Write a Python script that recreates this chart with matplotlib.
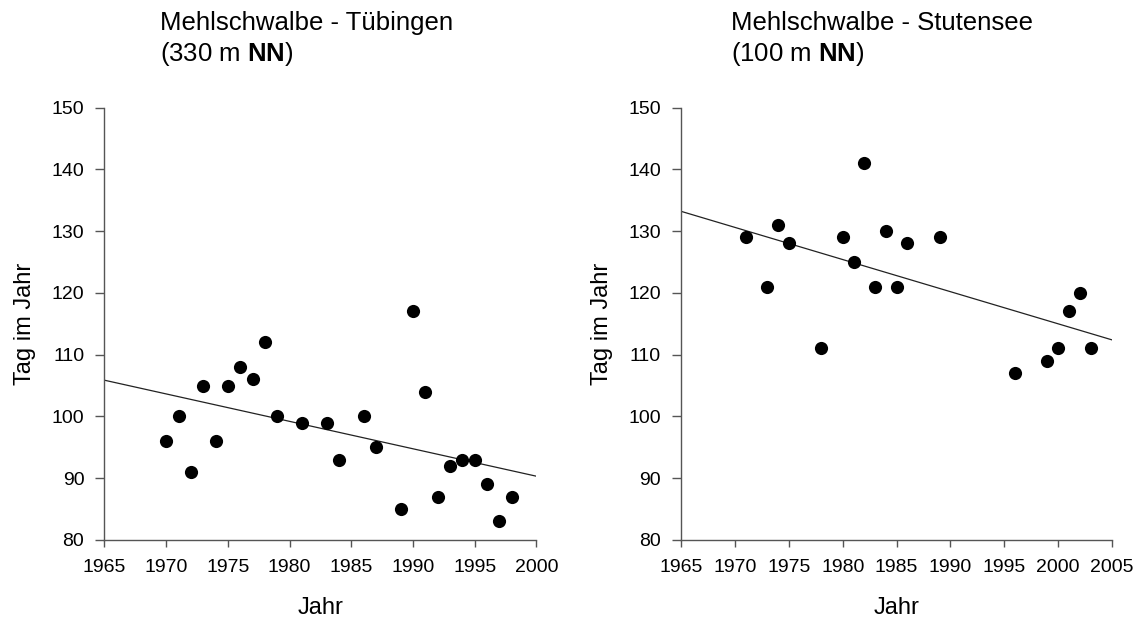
import numpy as np
import matplotlib
matplotlib.use("Agg")
import matplotlib.pyplot as plt

plt.rcParams['font.family'] = ['Liberation Sans', 'DejaVu Sans']
plt.rcParams['mathtext.fontset'] = 'custom'
plt.rcParams['mathtext.rm'] = 'Liberation Sans'
plt.rcParams['mathtext.bf'] = 'Liberation Sans:bold'

# Tübingen
jahr_tue = [1970, 1971, 1972, 1973, 1974, 1975, 1976, 1977, 1978, 1979, 1981, 1983,
            1984, 1986, 1987, 1989, 1990, 1991, 1992, 1993, 1994, 1995, 1996, 1997, 1998]
tag_tue = [96, 100, 91, 105, 96, 105, 108, 106, 112, 100, 99, 99,
           93, 100, 95, 85, 117, 104, 87, 92, 93, 93, 89, 83, 87]

# Stutensee
jahr_stu = [1971, 1973, 1974, 1975, 1978, 1980, 1981, 1982, 1983, 1984, 1985, 1986,
            1989, 1996, 1999, 2000, 2001, 2002, 2003]
tag_stu = [129, 121, 131, 128, 111, 129, 125, 141, 121, 130, 121, 128,
           129, 107, 109, 111, 117, 120, 111]

titel = ["Mehlschwalbe - Tübingen\n(330 m $\\mathbf{NN}$)",
         "Mehlschwalbe - Stutensee\n(100 m $\\mathbf{NN}$)"]
x_max = [2000, 2005]

fig = plt.figure(figsize=(11.39, 6.22), dpi=100)
ax1 = fig.add_axes([0.0917, 0.132, 0.3793, 0.695])
ax2 = fig.add_axes([0.598, 0.132, 0.3784, 0.695])

daten = [(ax1, jahr_tue, tag_tue), (ax2, jahr_stu, tag_stu)]
for i, (ax, x, y) in enumerate(daten):
    ax.scatter(x, y, s=90, color='black', zorder=3, linewidths=0)
    # Regressionsgerade
    m, b = np.polyfit(x, y, 1)
    xs = np.array([1965, x_max[i]])
    ax.plot(xs, m * xs + b, color='#222222', lw=0.9)

    ax.set_xlim(1965, x_max[i])
    ax.set_ylim(80, 150)
    ax.set_xticks(np.arange(1965, x_max[i] + 1, 5))
    ax.set_yticks(np.arange(80, 151, 10))
    for s in ['top', 'right']:
        ax.spines[s].set_visible(False)
    for s in ['left', 'bottom']:
        ax.spines[s].set_color('#555555')
        ax.spines[s].set_linewidth(1.0)
    ax.tick_params(axis='x', direction='out', length=5, width=1.0, color='#555555',
                   labelsize=14, pad=9)
    ax.tick_params(axis='y', direction='out', length=6.5, width=1.0, color='#555555',
                   labelsize=14, pad=8)
    ax.set_xlabel("Jahr", fontsize=17, labelpad=15)
    ax.set_ylabel("Tag im Jahr", fontsize=17, labelpad=11)

fig.text(160 / 1139, 1 - 11 / 622, titel[0], fontsize=18.5, ha='left', va='top',
         linespacing=1.22)
fig.text(731 / 1139, 1 - 11 / 622, titel[1], fontsize=18.5, ha='left', va='top',
         linespacing=1.22)

fig.savefig("out.png", dpi=100)
